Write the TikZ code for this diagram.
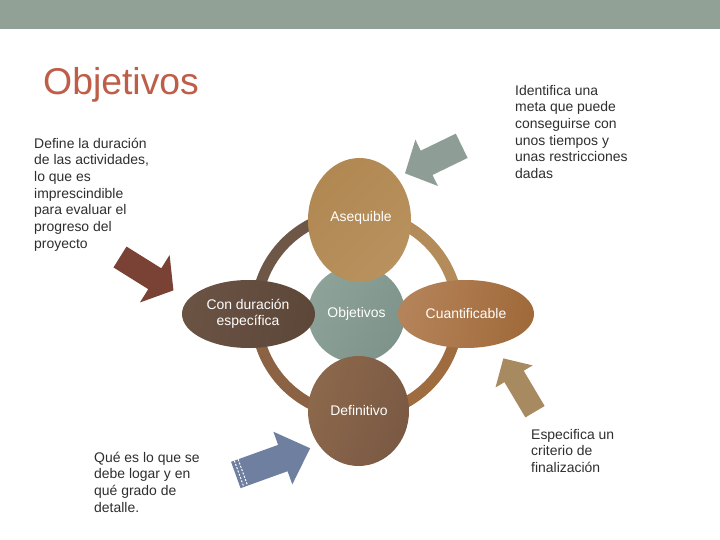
\documentclass[tikz,border=0pt]{standalone}
\usepackage{fontspec}
\setmainfont{Liberation Sans}
\definecolor{band}{HTML}{91A195}
\definecolor{titlec}{HTML}{BF5E48}
\definecolor{txt}{HTML}{2E2E2E}
\definecolor{ringA}{HTML}{6E5747}
\definecolor{ringB}{HTML}{B48C5A}
\definecolor{ringC}{HTML}{9E6C3E}
\definecolor{ringD}{HTML}{8B6243}
\definecolor{arrRed}{HTML}{7A4135}
\definecolor{arrGray}{HTML}{8E9D95}
\definecolor{arrBlue}{HTML}{6F7FA0}
\definecolor{arrTan}{HTML}{A88A60}
\definecolor{cirL}{HTML}{8DA298}
\definecolor{cirR}{HTML}{7E9389}
\definecolor{aseL}{HTML}{B18852}
\definecolor{aseR}{HTML}{B8915E}
\definecolor{defL}{HTML}{8C684B}
\definecolor{defR}{HTML}{7A5944}
\definecolor{conL}{HTML}{6B5344}
\definecolor{conR}{HTML}{5C4739}
\definecolor{cuaL}{HTML}{B5835A}
\definecolor{cuaR}{HTML}{A06A3A}
\tikzset{
  bodytext/.style={anchor=north west, inner sep=0pt, align=left, text=txt,
    font=\fontsize{14}{16.7}\selectfont},
  lbl/.style={text=white, align=center, font=\fontsize{14}{15.5}\selectfont},
  ringseg/.style={line width=11bp},
}
% block arrow: #1 length, #2 shaft half width, #3 head half width, #4 head length
\newcommand{\blockarrowpath}[4]{(0,-#2) -- ({#1-#4},-#2) -- ({#1-#4},-#3) -- (#1,0) -- ({#1-#4},#3) -- ({#1-#4},#2) -- (0,#2) -- cycle}
\begin{document}
\begin{tikzpicture}[x=1bp,y=-1bp]
\useasboundingbox (0,0) rectangle (720,540);
\fill[white] (0,0) rectangle (720,540);
\fill[band] (0,0) rectangle (720,29);

% title
\node[anchor=base west, inner sep=0pt, text=titlec, font=\fontsize{37.5}{40}\selectfont] (title) at (43,95) {Objetivos};

% ring
\coordinate (rc) at (357,314);
\draw[ringseg, ringA] (rc) ++(180:101) arc (180:270:101);
\draw[ringseg, ringB] (rc) ++(270:101) arc (270:360:101);
\draw[ringseg, ringC] (rc) ++(0:101) arc (0:90:101);
\draw[ringseg, ringD] (rc) ++(90:101) arc (90:180:101);

% center circle
\shade[left color=cirL, right color=cirR, shading angle=60] (356.5,314) circle (48.5);
\node[lbl] (obj) at (356.5,314) {Objetivos};

% ellipses
\shade[left color=aseL, right color=aseR, shading angle=45] (359.5,220) ellipse (51.5 and 62);
\node[lbl] (ase) at (361,218) {Asequible};

\shade[left color=defL, right color=defR, shading angle=70] (358.5,411) ellipse (50.5 and 55);
\node[lbl] (def) at (359,411) {Definitivo};

\shade[left color=conL, right color=conR, shading angle=80] (248.5,314) ellipse (66.5 and 34);
\node[lbl] (con) at (248,314) {Con duración\\específica};

\shade[left color=cuaL, right color=cuaR, shading angle=80] (466,314) ellipse (68 and 34);
\node[lbl] (cua) at (466,314) {Cuantificable};

% block arrows
\begin{scope}[shift={(120,257)}, rotate=-32]
  \fill[arrRed] \blockarrowpath{63}{12.3}{28}{22};
\end{scope}
\begin{scope}[shift={(461.7,145.8)}, rotate=205.9]
  \fill[arrGray] \blockarrowpath{63}{13.5}{25.7}{24};
\end{scope}
\begin{scope}[shift={(235.8,475)}, rotate=19.8]
  \fill[arrBlue] \blockarrowpath{79}{14}{28}{29};
  \draw[white, line width=1bp, dash pattern=on 2bp off 1.5bp] (3.5,-14) -- (3.5,14);
  \draw[white, line width=1bp, dash pattern=on 2bp off 1.5bp] (7.5,-14) -- (7.5,14);
\end{scope}
\begin{scope}[shift={(535,411.7)}, rotate=120.7]
  \fill[arrTan] \blockarrowpath{62}{11.2}{21.6}{21};
\end{scope}

% texts
\node[bodytext] (t1) at (34,134) {\rule{0pt}{14bp}Define la duración\\de las actividades,\\lo que es\\imprescindible\\para evaluar el\\progreso del\\proyecto};
\node[bodytext] (t2) at (515,81) {\rule{0pt}{14bp}Identifica una\\meta que puede\\conseguirse con\\unos tiempos y\\unas restricciones\\dadas};
\node[bodytext] (t3) at (94,448) {\rule{0pt}{14bp}Qué es lo que se\\debe logar y en\\qué grado de\\detalle.};
\node[bodytext] (t4) at (531,425) {\rule{0pt}{14bp}Especifica un\\criterio de\\finalización};
\end{tikzpicture}
\end{document}
